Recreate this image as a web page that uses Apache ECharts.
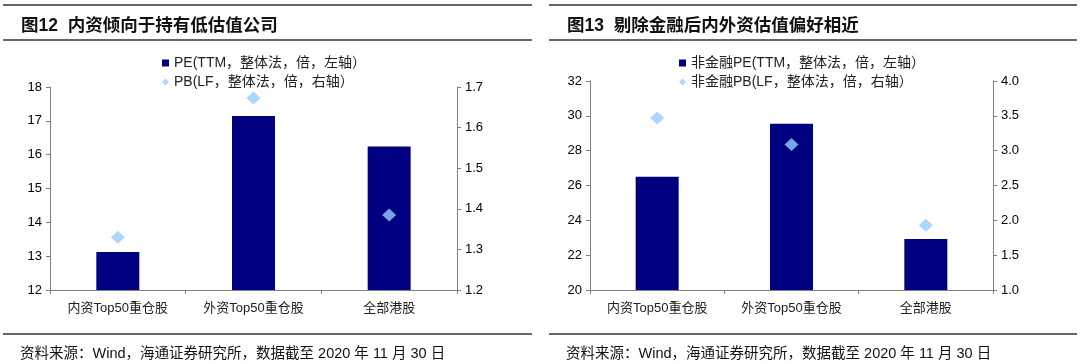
<!DOCTYPE html>
<html><head><meta charset="utf-8">
<script src="https://cdn.jsdelivr.net/npm/echarts@6/dist/echarts.min.js"></script>
<style>html,body{margin:0;padding:0;background:#fff}#c{width:1080px;height:364px}</style>
</head><body><div id="c"></div>
<script>
const categories = ['内资Top50重仓股', '外资Top50重仓股', '全部港股'];
// Figure 12
const pe1 = [13.12, 17.14, 16.24];
const pb1 = [1.33, 1.673, 1.385];
// Figure 13
const pe2 = [26.5, 29.55, 22.93];
const pb2 = [3.47, 3.09, 1.93];
const title1 = '图12  内资倾向于持有低估值公司';
const title2 = '图13  剔除金融后内外资估值偏好相近';
const legend1 = ['PE(TTM，整体法，倍，左轴）', 'PB(LF，整体法，倍，右轴）'];
const legend2 = ['非金融PE(TTM，整体法，倍，左轴）', '非金融PB(LF，整体法，倍，右轴）'];
const source = '资料来源：Wind，海通证券研究所，数据截至 2020 年 11 月 30 日';

const FONT = '"Liberation Sans", Arial, "Noto Sans CJK SC", sans-serif';
const BAR = '#000080', DIA = '#99CCFF', AX = '#808080';
const chart = echarts.init(document.getElementById('c'));

function yAx(gi, min, max, interval, pos, dec) {
  return {
    type: 'value', gridIndex: gi, min, max, interval, position: pos,
    splitLine: { show: false },
    axisLine: { show: true, lineStyle: { color: AX, width: 1 } },
    axisTick: { show: true, length: 4, lineStyle: { color: AX } },
    axisLabel: { color: '#000', fontSize: 13, fontFamily: FONT, margin: 8,
      formatter: v => dec ? v.toFixed(dec) : String(v) }
  };
}
function xAx(gi) {
  return {
    type: 'category', gridIndex: gi, data: categories,
    axisLine: { lineStyle: { color: AX } },
    axisTick: { show: true, length: 4, lineStyle: { color: AX } },
    axisLabel: { color: '#222', fontSize: 13, fontFamily: FONT, margin: 12 }
  };
}
const lineStyle = { stroke: '#666', lineWidth: 2 };
function hline(x1, x2, y) {
  return { type: 'line', shape: { x1, y1: y, x2, y2: y }, style: lineStyle, silent: true };
}

chart.setOption({
  animation: false,
  textStyle: { fontFamily: FONT },
  title: [
    { text: title1, left: 16, top: 12, textStyle: { fontSize: 17.5, fontWeight: 'bold', color: '#111', fontFamily: FONT } },
    { text: title2, left: 562, top: 12, textStyle: { fontSize: 17.5, fontWeight: 'bold', color: '#111', fontFamily: FONT } },
    { text: source, left: 15, top: 342, textStyle: { fontSize: 14.5, fontWeight: 'normal', color: '#111', fontFamily: FONT } },
    { text: source, left: 561, top: 342, textStyle: { fontSize: 14.5, fontWeight: 'normal', color: '#111', fontFamily: FONT } }
  ],
  legend: [
    { data: [{ name: legend1[0], icon: 'rect' }, { name: legend1[1], icon: 'diamond' }],
      orient: 'vertical', left: 157, top: 51, itemWidth: 7, itemHeight: 7, itemGap: 5,
      textStyle: { fontSize: 14, color: '#222', fontFamily: FONT } },
    { data: [{ name: legend2[0], icon: 'rect' }, { name: legend2[1], icon: 'diamond' }],
      orient: 'vertical', left: 674, top: 51, itemWidth: 7, itemHeight: 7, itemGap: 5,
      textStyle: { fontSize: 14, color: '#222', fontFamily: FONT } }
  ],
  grid: [
    { left: 50, right: 623, top: 87, bottom: 74 },
    { left: 590, right: 87, top: 81, bottom: 74 }
  ],
  xAxis: [xAx(0), xAx(1)],
  yAxis: [
    yAx(0, 12, 18, 1, 'left', 0),
    yAx(0, 1.2, 1.7, 0.1, 'right', 1),
    yAx(1, 20, 32, 2, 'left', 0),
    yAx(1, 1.0, 4.0, 0.5, 'right', 1)
  ],
  series: [
    { name: legend1[0], type: 'bar', xAxisIndex: 0, yAxisIndex: 0, data: pe1, barWidth: 43,
      itemStyle: { color: BAR } },
    { name: legend1[1], type: 'scatter', xAxisIndex: 0, yAxisIndex: 1, data: pb1, symbol: 'diamond', symbolSize: [14, 13],
      itemStyle: { color: DIA } },
    { name: legend2[0], type: 'bar', xAxisIndex: 1, yAxisIndex: 2, data: pe2, barWidth: 43,
      itemStyle: { color: BAR } },
    { name: legend2[1], type: 'scatter', xAxisIndex: 1, yAxisIndex: 3, data: pb2, symbol: 'diamond', symbolSize: [14, 13],
      itemStyle: { color: DIA } }
  ],
  graphic: [
    hline(3, 532, 5), hline(3, 532, 40), hline(3, 532, 334),
    hline(549, 1077, 5), hline(549, 1077, 40), hline(549, 1077, 334)
  ]
});
</script></body></html>
